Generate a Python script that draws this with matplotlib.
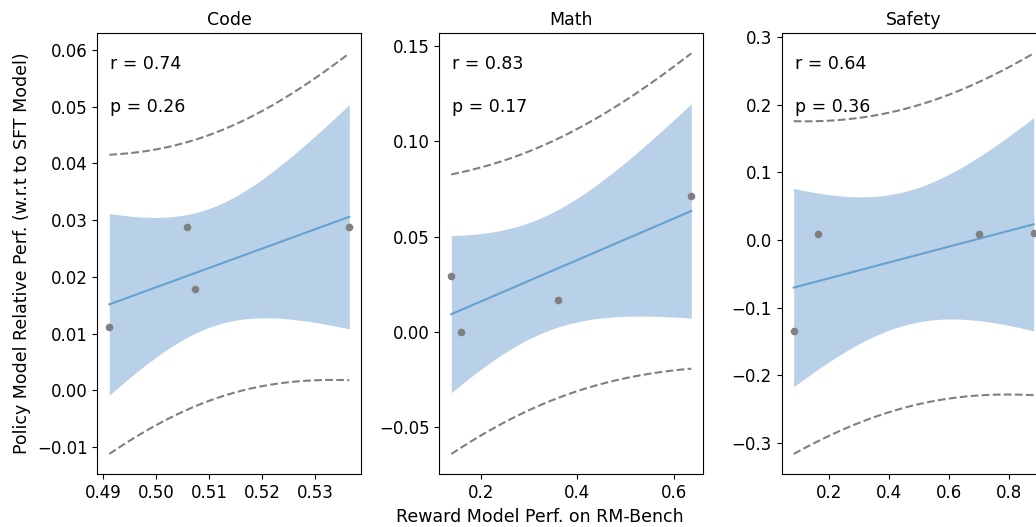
import numpy as np
import matplotlib
matplotlib.use("Agg")
import matplotlib.pyplot as plt

# ==============================
# DATA
# ==============================
titles = ["Code", "Math", "Safety"]

code_x = [0.4912, 0.5058, 0.5073, 0.5365]
code_y = [0.0111, 0.0288, 0.0178, 0.0288]

math_x = [0.1392, 0.1592, 0.3600, 0.6366]
math_y = [0.0294, 0.0002, 0.0169, 0.0713]

safety_x = [0.0833, 0.1650, 0.7000, 0.8820]
safety_y = [-0.1342, 0.0088, 0.0088, 0.0108]

r_labels = ["r = 0.74", "r = 0.83", "r = 0.64"]
p_labels = ["p = 0.26", "p = 0.17", "p = 0.36"]

# t critical value, 90% two-sided, df = n - 2 = 2
T_CRIT = 2.919986

BAND_COLOR = "#b8d0e8"
LINE_COLOR = "#65a2d2"
POINT_COLOR = "#808080"


def fit_and_bands(x, y, xs):
    x = np.asarray(x)
    y = np.asarray(y)
    n = len(x)
    slope, intercept = np.polyfit(x, y, 1)
    resid = y - (slope * x + intercept)
    s = np.sqrt(np.sum(resid ** 2) / (n - 2))
    sxx = np.sum((x - x.mean()) ** 2)
    yhat = slope * xs + intercept
    se_mean = s * np.sqrt(1.0 / n + (xs - x.mean()) ** 2 / sxx)
    se_pred = s * np.sqrt(1.0 + 1.0 / n + (xs - x.mean()) ** 2 / sxx)
    return yhat, T_CRIT * se_mean, T_CRIT * se_pred


# ==============================
# PLOT
# ==============================
fig = plt.figure(figsize=(10.36, 5.27), dpi=100)

W, H = 1036.0, 527.0
lefts = [97.3, 439.3, 781.7]
ax_w = 264.0 / W
ax_b = (H - 474.0) / H
ax_h = 440.7 / H

datasets = [(code_x, code_y), (math_x, math_y), (safety_x, safety_y)]

axes = []
for i, (x, y) in enumerate(datasets):
    ax = fig.add_axes([lefts[i] / W, ax_b, ax_w, ax_h])
    axes.append(ax)

    xs = np.linspace(min(x), max(x), 200)
    yhat, ci, pi = fit_and_bands(x, y, xs)

    ax.fill_between(xs, yhat - ci, yhat + ci, color=BAND_COLOR, lw=0, zorder=1)
    ax.plot(xs, yhat, color=LINE_COLOR, lw=1.5, zorder=2)
    ax.plot(xs, yhat + pi, color=POINT_COLOR, ls="--", lw=1.5, zorder=2)
    ax.plot(xs, yhat - pi, color=POINT_COLOR, ls="--", lw=1.5, zorder=2)
    ax.scatter(x, y, s=30, color=POINT_COLOR, zorder=3, linewidths=0)

    ax.set_title(titles[i], fontsize=12.5)
    ax.text(0.05, 0.93, r_labels[i], transform=ax.transAxes,
            ha="left", va="center", fontsize=12.5)
    ax.text(0.05, 0.833, p_labels[i], transform=ax.transAxes,
            ha="left", va="center", fontsize=12.5)
    ax.tick_params(labelsize=12)

axes[0].set_ylabel("Policy Model Relative Perf. (w.r.t to SFT Model)", fontsize=12.5)
fig.text(540.0 / W, 1 - 517.0 / H, "Reward Model Perf. on RM-Bench",
         ha="center", va="center", fontsize=12.5)

fig.savefig("out.png", dpi=100)
